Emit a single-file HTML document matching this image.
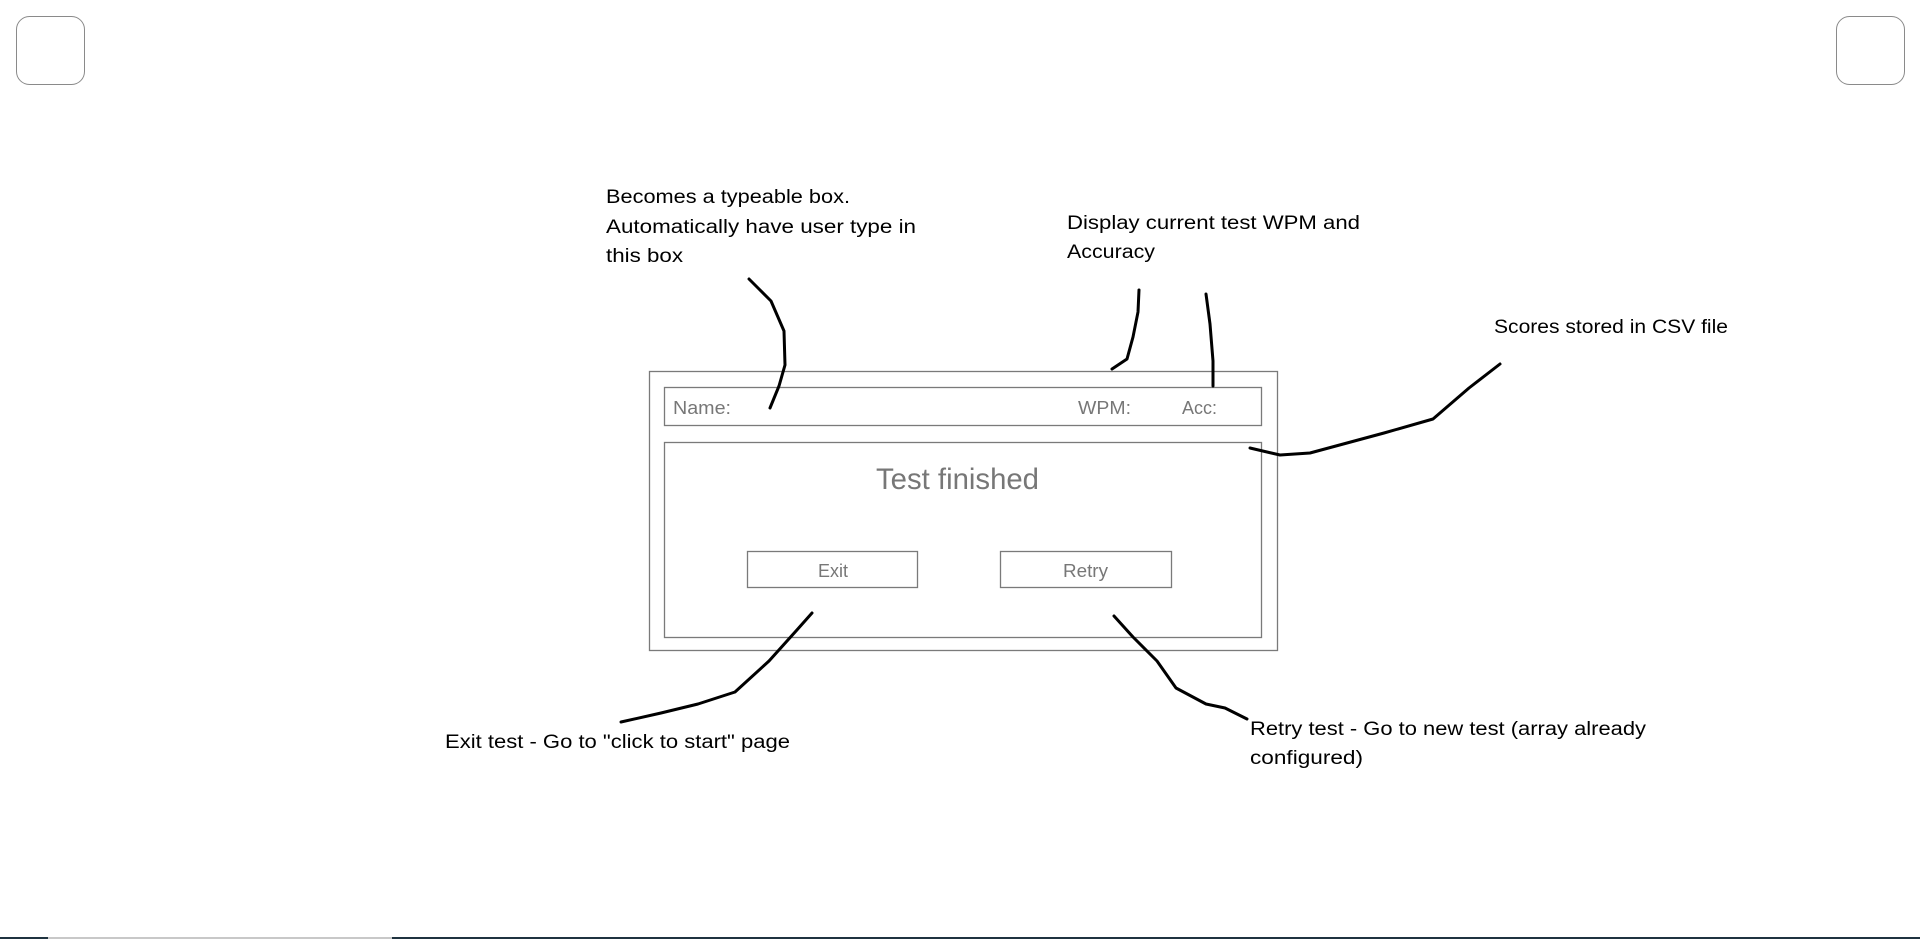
<!DOCTYPE html>
<html><head><meta charset="utf-8"><style>
html,body{margin:0;padding:0;background:#fff;width:1920px;height:939px;overflow:hidden}
svg{display:block}
text{font-family:"Liberation Sans",sans-serif}
</style></head><body>
<svg width="1920" height="939" viewBox="0 0 1920 939" xmlns="http://www.w3.org/2000/svg">
<rect x="16.5" y="16.5" width="68" height="68" rx="13" fill="none" stroke="#8a8a8a" stroke-width="1"/>
<rect x="1836.5" y="16.5" width="68" height="68" rx="13" fill="none" stroke="#8a8a8a" stroke-width="1"/>

<rect x="649.5" y="371.5" width="628" height="279" fill="none" stroke="#7a7a7a" stroke-width="1.3"/>
<rect x="664.5" y="387.5" width="597" height="38" fill="none" stroke="#7a7a7a" stroke-width="1.3"/>
<rect x="664.5" y="442.5" width="597" height="195" fill="none" stroke="#7a7a7a" stroke-width="1.3"/>
<rect x="747.5" y="551.5" width="170" height="36" fill="none" stroke="#7a7a7a" stroke-width="1.3"/>
<rect x="1000.5" y="551.5" width="171" height="36" fill="none" stroke="#7a7a7a" stroke-width="1.3"/>

<g fill="#777" font-size="18">
<text x="673" y="414" textLength="58" lengthAdjust="spacingAndGlyphs">Name:</text>
<text x="1078" y="414" textLength="53" lengthAdjust="spacingAndGlyphs">WPM:</text>
<text x="1182" y="414" textLength="35" lengthAdjust="spacingAndGlyphs">Acc:</text>
<text x="876" y="489" font-size="30" textLength="163" lengthAdjust="spacingAndGlyphs">Test finished</text>
<text x="818" y="577" textLength="30" lengthAdjust="spacingAndGlyphs">Exit</text>
<text x="1063" y="577" textLength="45" lengthAdjust="spacingAndGlyphs">Retry</text>
</g>

<g fill="#000" font-size="19">
<text x="606" y="203" textLength="244" lengthAdjust="spacingAndGlyphs">Becomes a typeable box.</text>
<text x="606" y="233" textLength="310" lengthAdjust="spacingAndGlyphs">Automatically have user type in</text>
<text x="606" y="262" textLength="77" lengthAdjust="spacingAndGlyphs">this box</text>
<text x="1067" y="229" textLength="293" lengthAdjust="spacingAndGlyphs">Display current test WPM and</text>
<text x="1067" y="258" textLength="88" lengthAdjust="spacingAndGlyphs">Accuracy</text>
<text x="1494" y="333" textLength="234" lengthAdjust="spacingAndGlyphs">Scores stored in CSV file</text>
<text x="445" y="748" textLength="345" lengthAdjust="spacingAndGlyphs">Exit test - Go to "click to start" page</text>
<text x="1250" y="735" textLength="396" lengthAdjust="spacingAndGlyphs">Retry test - Go to new test (array already</text>
<text x="1250" y="764" textLength="113" lengthAdjust="spacingAndGlyphs">configured)</text>
</g>

<g fill="none" stroke="#000" stroke-width="3" stroke-linecap="round" stroke-linejoin="round">
<polyline points="749,279 759,289 771,301 784,331 785,365 779,386 770,408"/>
<polyline points="1139,290 1138,312 1133,337 1127,359 1112,369"/>
<polyline points="1206,294 1210,324 1213,361 1213,386"/>
<polyline points="1500,364 1469,388 1433,419 1384,433 1347,443 1310,453 1280,455 1250,448"/>
<polyline points="812,613 796,631 769,661 735,692 698,704 661,713 621,722"/>
<polyline points="1114,616 1133,637 1157,661 1176,688 1206,704 1225,708 1247,719"/>
</g>

<rect x="0" y="937" width="1920" height="2" fill="#1f3340"/>
<rect x="48" y="937" width="344" height="2" fill="#c8c8c8"/>
</svg>
</body></html>
